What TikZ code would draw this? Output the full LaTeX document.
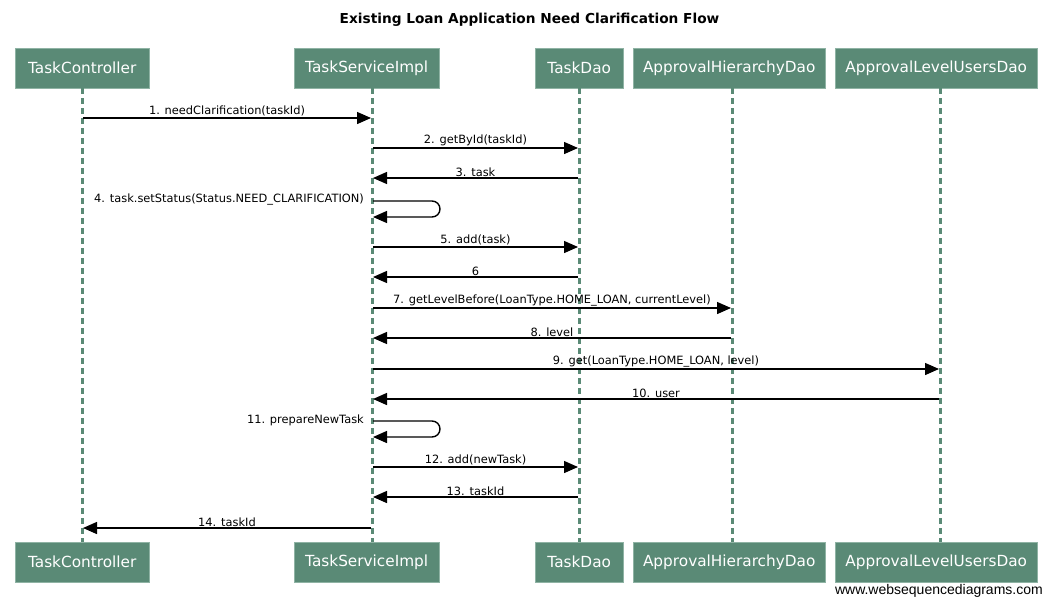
\documentclass[tikz,border=0pt]{standalone}
\usepackage{fontspec}
\setmainfont{DejaVu Sans}
\newfontfamily\wmfont{Liberation Sans}
\usetikzlibrary{arrows.meta}
\definecolor{actorfill}{HTML}{5A8A76}
\definecolor{actorline}{HTML}{8FB3A4}
\definecolor{lifeline}{HTML}{5A8A76}
\begin{document}
\begin{tikzpicture}[x=1pt,y=-1pt,
  actor/.style={draw=actorline,fill=actorfill,text=white,font=\fontsize{15.3}{17}\selectfont,minimum height=40pt,inner sep=0pt,anchor=north west},
  life/.style={draw=lifeline,line width=3pt,dash pattern=on 6pt off 4pt},
  msg/.style={draw=black,line width=1.4pt,-{Triangle[length=14pt,width=12pt]}},
  lbl/.style={font=\fontsize{11.4}{13}\selectfont,inner sep=1pt,anchor=south},
  selflbl/.style={font=\fontsize{11.4}{13}\selectfont,anchor=east,inner sep=1pt}]
\useasboundingbox (0,0) rectangle (1059,605);
\fill[white] (0,0) rectangle (1059,605);
\node[font=\bfseries\fontsize{13.7}{17}\selectfont] (title) at (529.5,20) {Existing Loan Application Need Clarification Flow};
% top actors
\node[actor,minimum width=134pt] (tc) at (15,48) {TaskController};
\node[actor,minimum width=145pt] (ts) at (294,48) {TaskServiceImpl};
\node[actor,minimum width=88pt] (td) at (535,48) {TaskDao};
\node[actor,minimum width=192pt] (ah) at (633,48) {ApprovalHierarchyDao};
\node[actor,minimum width=202pt] (al) at (835,48) {ApprovalLevelUsersDao};
% bottom actors
\node[actor,minimum width=134pt] (tcb) at (15,542) {TaskController};
\node[actor,minimum width=145pt] (tsb) at (294,542) {TaskServiceImpl};
\node[actor,minimum width=88pt] (tdb) at (535,542) {TaskDao};
\node[actor,minimum width=192pt] (ahb) at (633,542) {ApprovalHierarchyDao};
\node[actor,minimum width=202pt] (alb) at (835,542) {ApprovalLevelUsersDao};
% lifeline x positions
\coordinate (xtc) at (82,0);
\coordinate (xts) at (372,0);
\coordinate (xtd) at (579,0);
\coordinate (xah) at (732,0);
\coordinate (xal) at (940,0);
\draw[life] (tc.south -| xtc) -- (tcb.north -| xtc);
\draw[life] (ts.south -| xts) -- (tsb.north -| xts);
\draw[life] (td.south -| xtd) -- (tdb.north -| xtd);
\draw[life] (ah.south -| xah) -- (ahb.north -| xah);
\draw[life] (al.south -| xal) -- (alb.north -| xal);
% messages
\coordinate (m1a) at (83,118); \coordinate (m1b) at (371,118);
\draw[msg] (m1a) -- node[lbl] {1. needClarification(taskId)} (m1b);
\coordinate (m2a) at (373,148); \coordinate (m2b) at (578,148);
\draw[msg] (m2a) -- node[lbl] {2. getById(taskId)} (m2b);
\coordinate (m3a) at (578,178); \coordinate (m3b) at (373,178);
\draw[msg] (m3a) -- node[lbl] {3. task} (m3b);
\coordinate (m4a) at (373,201); \coordinate (m4b) at (373,217);
\draw[msg,rounded corners=8pt] (m4a) -- (440,201) -- (440,217) -- (m4b);
\node[selflbl] (l4) at (365,200) {4. task.setStatus(Status.NEED\_CLARIFICATION)};
\coordinate (m5a) at (373,247); \coordinate (m5b) at (578,247);
\draw[msg] (m5a) -- node[lbl] {5. add(task)} (m5b);
\coordinate (m6a) at (578,277); \coordinate (m6b) at (373,277);
\draw[msg] (m6a) -- node[lbl] {6} (m6b);
\coordinate (m7a) at (373,308); \coordinate (m7b) at (731,308);
\draw[msg] (m7a) -- node[lbl] {7. getLevelBefore(LoanType.HOME\_LOAN, currentLevel)} (m7b);
\coordinate (m8a) at (731,338); \coordinate (m8b) at (373,338);
\draw[msg] (m8a) -- node[lbl] {8. level} (m8b);
\coordinate (m9a) at (373,369); \coordinate (m9b) at (939,369);
\draw[msg] (m9a) -- node[lbl] {9. get(LoanType.HOME\_LOAN, level)} (m9b);
\coordinate (m10a) at (939,399); \coordinate (m10b) at (373,399);
\draw[msg] (m10a) -- node[lbl] {10. user} (m10b);
\coordinate (m11a) at (373,421); \coordinate (m11b) at (373,437);
\draw[msg,rounded corners=8pt] (m11a) -- (440,421) -- (440,437) -- (m11b);
\node[selflbl] (l11) at (365,420) {11. prepareNewTask};
\coordinate (m12a) at (373,467); \coordinate (m12b) at (578,467);
\draw[msg] (m12a) -- node[lbl] {12. add(newTask)} (m12b);
\coordinate (m13a) at (578,497); \coordinate (m13b) at (373,497);
\draw[msg] (m13a) -- node[lbl] {13. taskId} (m13b);
\coordinate (m14a) at (371,528); \coordinate (m14b) at (83,528);
\draw[msg] (m14a) -- node[lbl] {14. taskId} (m14b);
% watermark
\node[font=\wmfont\fontsize{14}{16}\selectfont,anchor=east,inner sep=0pt] (wm) at (1043,591) {www.websequencediagrams.com};
\end{tikzpicture}
\end{document}
